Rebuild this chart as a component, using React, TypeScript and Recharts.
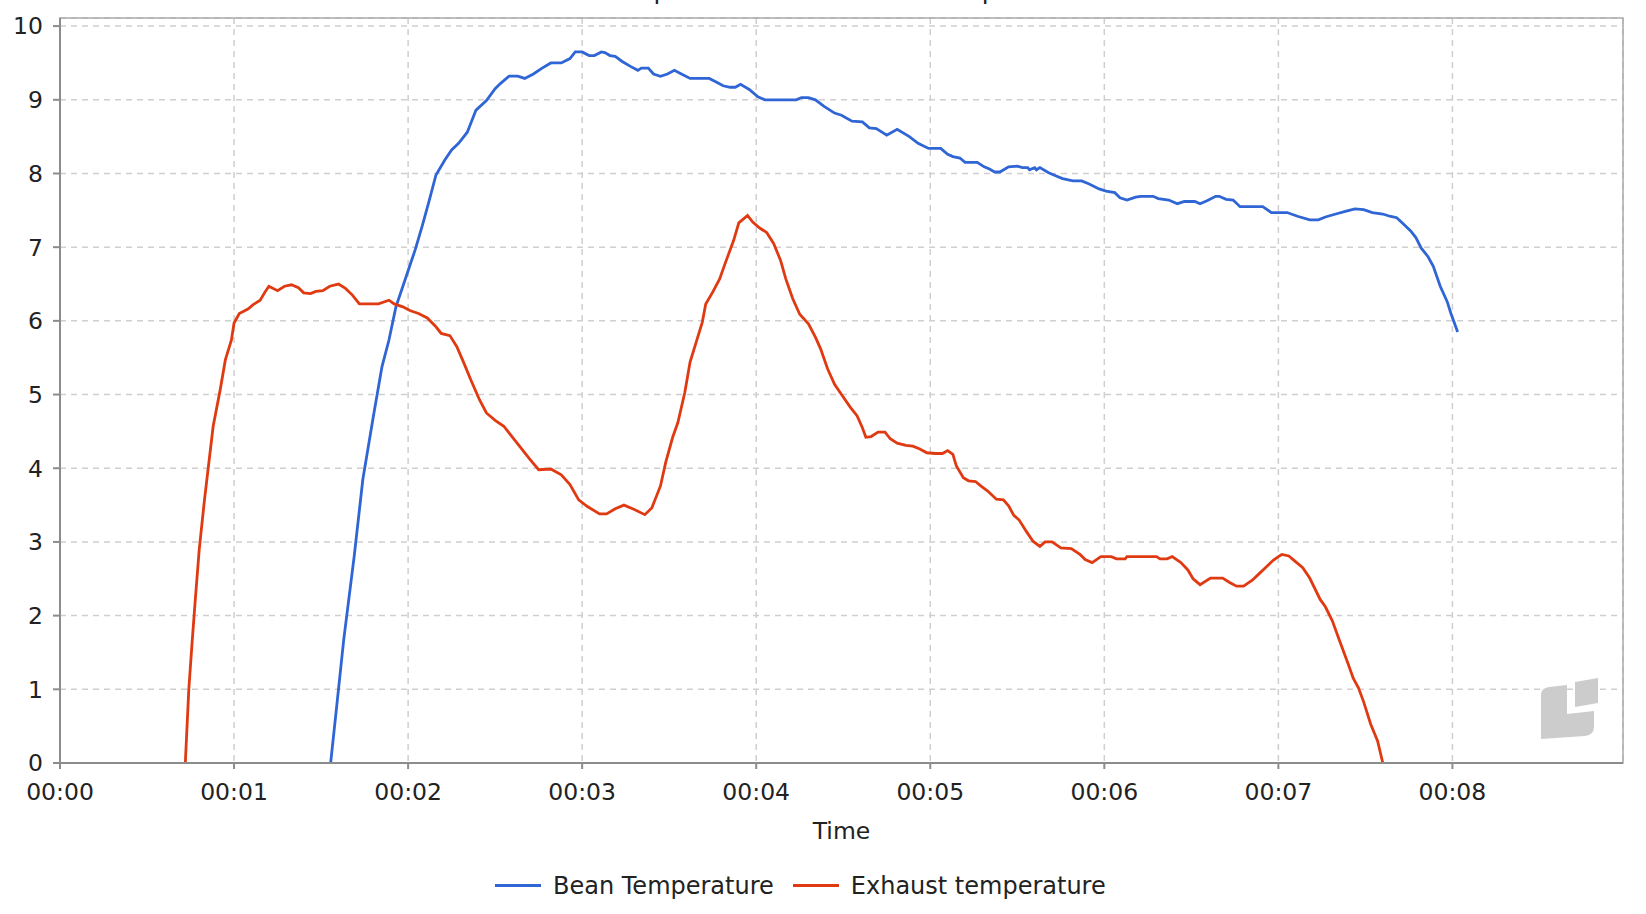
import {
  CartesianGrid,
  Customized,
  Legend,
  Line,
  LineChart,
  ReferenceArea,
  XAxis,
  YAxis,
} from 'recharts'

// time in minutes, temperature in chart units
const beanTime = [
  1.555, 1.6, 1.63, 1.69, 1.74, 1.8, 1.85, 1.89, 1.93, 1.97, 2.04, 2.08, 2.12, 2.16, 2.21, 2.25,
  2.29, 2.34, 2.39, 2.45, 2.5, 2.53, 2.58, 2.63, 2.67, 2.72, 2.77, 2.82, 2.88, 2.93, 2.96, 3.0,
  3.04, 3.07, 3.11, 3.13, 3.16, 3.19, 3.23, 3.28, 3.32, 3.34, 3.38, 3.41, 3.45, 3.49, 3.53, 3.57,
  3.62, 3.73, 3.77, 3.81, 3.85, 3.88, 3.91, 3.96, 4.01, 4.05, 4.23, 4.26, 4.3, 4.34, 4.39, 4.45,
  4.49, 4.55, 4.61, 4.65, 4.69, 4.75, 4.81, 4.88, 4.93, 4.99, 5.06, 5.1, 5.13, 5.17, 5.2, 5.27,
  5.31, 5.34, 5.37, 5.4, 5.45, 5.5, 5.53, 5.56, 5.57, 5.6, 5.61, 5.63, 5.68, 5.72, 5.76, 5.82,
  5.87, 5.91, 5.97, 6.01, 6.06, 6.09, 6.13, 6.18, 6.21, 6.28, 6.31, 6.37, 6.42, 6.46, 6.52, 6.55,
  6.59, 6.64, 6.66, 6.7, 6.74, 6.78, 6.91, 6.96, 7.05, 7.11, 7.18, 7.23, 7.27, 7.33, 7.39, 7.44,
  7.49, 7.54, 7.6, 7.64, 7.68, 7.72, 7.76, 7.79, 7.82, 7.86, 7.89, 7.93, 7.97, 7.99, 8.03,
]
const beanTemp = [
  0, 1, 1.67, 2.8, 3.85, 4.7, 5.38, 5.74, 6.19, 6.47, 6.96, 7.28, 7.62, 7.98, 8.18, 8.32,
  8.41, 8.56, 8.86, 8.99, 9.15, 9.22, 9.32, 9.32, 9.29, 9.35, 9.43, 9.5, 9.5, 9.56, 9.65, 9.65,
  9.6, 9.6, 9.65, 9.64, 9.6, 9.59, 9.52, 9.45, 9.4, 9.43, 9.43, 9.35, 9.32, 9.35, 9.4, 9.35,
  9.29, 9.29, 9.24, 9.19, 9.17, 9.17, 9.21, 9.14, 9.04, 9.0, 9.0, 9.03, 9.03, 9.0, 8.91, 8.82,
  8.79, 8.71, 8.7, 8.62, 8.61, 8.52, 8.6, 8.5, 8.41, 8.34, 8.34, 8.26, 8.23, 8.21, 8.15, 8.15,
  8.09, 8.06, 8.02, 8.02, 8.09, 8.1, 8.08, 8.08, 8.05, 8.08, 8.05, 8.08, 8.01, 7.97, 7.93, 7.9,
  7.9, 7.86, 7.79, 7.76, 7.74, 7.67, 7.64, 7.68, 7.69, 7.69, 7.66, 7.64, 7.59, 7.62, 7.62, 7.59,
  7.63, 7.69, 7.69, 7.65, 7.64, 7.55, 7.55, 7.47, 7.47, 7.42, 7.37, 7.37, 7.41, 7.45, 7.49, 7.52,
  7.51, 7.47, 7.45, 7.42, 7.4, 7.31, 7.22, 7.13, 6.99, 6.87, 6.74, 6.47, 6.26, 6.11, 5.85,
]

const exhaustTime = [
  0.72, 0.74, 0.76, 0.78, 0.8, 0.83, 0.88, 0.92, 0.95, 0.985, 1.0, 1.03, 1.08, 1.11, 1.15, 1.18,
  1.2, 1.25, 1.29, 1.33, 1.37, 1.4, 1.44, 1.47, 1.51, 1.55, 1.6, 1.64, 1.68, 1.72, 1.78, 1.83,
  1.89, 1.92, 1.97, 2.01, 2.06, 2.11, 2.16, 2.19, 2.24, 2.28, 2.32, 2.36, 2.41, 2.45, 2.5, 2.55,
  2.59, 2.64, 2.7, 2.75, 2.82, 2.88, 2.93, 2.98, 3.03, 3.1, 3.14, 3.19, 3.24, 3.3, 3.36, 3.4,
  3.45, 3.48, 3.52, 3.55, 3.59, 3.62, 3.66, 3.69, 3.71, 3.75, 3.79, 3.82, 3.87, 3.9, 3.95, 3.98,
  4.02, 4.06, 4.1, 4.14, 4.17, 4.21, 4.25, 4.3, 4.34, 4.37, 4.41, 4.45, 4.49, 4.54, 4.58, 4.61,
  4.63, 4.66, 4.7, 4.74, 4.77, 4.81, 4.86, 4.9, 4.94, 4.98, 5.03, 5.07, 5.1, 5.13, 5.15, 5.19,
  5.22, 5.26, 5.29, 5.33, 5.38, 5.42, 5.45, 5.48, 5.51, 5.55, 5.59, 5.63, 5.66, 5.7, 5.75, 5.81,
  5.86, 5.89, 5.93, 5.98, 6.04, 6.07, 6.12, 6.13, 6.3, 6.32, 6.36, 6.39, 6.44, 6.48, 6.51, 6.55,
  6.61, 6.68, 6.72, 6.76, 6.8, 6.85, 6.89, 6.93, 6.97, 7.0, 7.02, 7.06, 7.09, 7.14, 7.18, 7.24,
  7.27, 7.31, 7.35, 7.4, 7.43, 7.46, 7.49, 7.53, 7.57, 7.6,
]
const exhaustTemp = [
  0, 1, 1.67, 2.3, 2.9, 3.57, 4.57, 5.06, 5.47, 5.74, 5.97, 6.1, 6.16, 6.22, 6.28, 6.4,
  6.47, 6.41, 6.47, 6.49, 6.45, 6.38, 6.37, 6.4, 6.41, 6.47, 6.5, 6.44, 6.35, 6.23, 6.23, 6.23,
  6.28, 6.23, 6.19, 6.14, 6.1, 6.04, 5.92, 5.83, 5.8, 5.65, 5.43, 5.2, 4.93, 4.75, 4.65, 4.57,
  4.45, 4.3, 4.12, 3.98, 3.99, 3.91, 3.78, 3.57, 3.48, 3.38, 3.38, 3.45, 3.5, 3.44, 3.37, 3.46,
  3.76, 4.08, 4.42, 4.62, 5.03, 5.44, 5.75, 5.98, 6.23, 6.39, 6.57, 6.77, 7.09, 7.33, 7.43, 7.34,
  7.26, 7.2, 7.05, 6.82, 6.57, 6.3, 6.09, 5.96, 5.78, 5.62, 5.35, 5.14, 5.0, 4.83, 4.71, 4.55,
  4.42, 4.43, 4.49, 4.49, 4.4, 4.34, 4.31, 4.3, 4.26, 4.21, 4.2, 4.2, 4.24, 4.19, 4.03, 3.87,
  3.83, 3.82, 3.76, 3.69, 3.58, 3.57, 3.49, 3.36, 3.3, 3.15, 3.01, 2.94, 3.0, 3.0, 2.92, 2.91,
  2.83, 2.76, 2.72, 2.8, 2.8, 2.77, 2.77, 2.8, 2.8, 2.77, 2.77, 2.8, 2.72, 2.62, 2.5, 2.42,
  2.51, 2.51, 2.45, 2.4, 2.4, 2.48, 2.57, 2.66, 2.75, 2.8, 2.83, 2.81, 2.75, 2.65, 2.51, 2.22,
  2.12, 1.93, 1.67, 1.35, 1.15, 1.02, 0.83, 0.53, 0.3, 0,
]

const xTicks = [0, 1, 2, 3, 4, 5, 6, 7, 8]
const yTicks = [0, 1, 2, 3, 4, 5, 6, 7, 8, 9, 10]
const xMax = 8.98
const yMax = 10.11

const beanData = beanTime.map((t, i) => ({ t, v: beanTemp[i] }))
const exhaustData = exhaustTime.map((t, i) => ({ t, v: exhaustTemp[i] }))

const font = '"DejaVu Sans", Verdana, sans-serif'
const textColor = '#222'
const tick = { fill: textColor, fontSize: 23.5, fontFamily: font }
const axisLine = { stroke: '#8c8c8c', strokeWidth: 2 }

const fmtTime = (t: number) => `00:${String(t).padStart(2, '0')}`

function LegendContent({ payload }: any) {
  return (
    <div style={{ height: 60, paddingLeft: 495, paddingTop: 25, boxSizing: 'border-box', display: 'flex', alignItems: 'center', fontFamily: font, fontSize: 24, color: textColor }}>
      {(payload ?? []).map((p: any) => (
        <span key={p.value} style={{ display: 'flex', alignItems: 'center', marginRight: 19 }}>
          <span style={{ display: 'inline-block', width: 46, height: 3, background: p.color, marginRight: 12 }} />
          {p.value}
        </span>
      ))}
    </div>
  )
}

// title sits above the page edge, only its descenders show; faint logo bottom right
function Decor() {
  return (
    <g>
      <text x={531} y={-1.5} fontFamily={font} fontSize={25} fill={textColor}>
        Bean Temperature and Exhaust temperature
      </text>
      <g fill="#cccccc">
        <path d="M1549,687 L1567,685 L1567,714 L1594,711 L1594,727 Q1594,735 1585,736 L1541,739 L1541,695 Q1541,688 1549,687 Z" />
        <path d="M1575,682 L1598,678 L1598,703 L1575,707 Z" />
      </g>
    </g>
  )
}

export default function App() {
  return (
    <div style={{ position: 'absolute', left: 0, top: 0, width: 1646, height: 914, background: '#fff' }}>
      <LineChart width={1646} height={914} margin={{ top: 18, right: 23, bottom: 11, left: 0 }}>
        <CartesianGrid stroke="#cfcfcf" strokeWidth={1.5} strokeDasharray="6 5" />
        <ReferenceArea x1={0} x2={xMax} y1={0} y2={yMax} fill="none" stroke="#ababab" strokeWidth={1.5} ifOverflow="visible" />
        <XAxis
          type="number"
          dataKey="t"
          domain={[0, xMax]}
          ticks={xTicks}
          allowDataOverflow
          tickFormatter={fmtTime}
          tick={tick}
          axisLine={axisLine}
          tickLine={axisLine}
          tickSize={6}
          tickMargin={14}
          height={80}
          label={{ value: 'Time', position: 'insideBottom', offset: 4, fill: textColor, fontSize: 23.5, fontFamily: font }}
        />
        <YAxis
          type="number"
          dataKey="v"
          domain={[0, yMax]}
          ticks={yTicks}
          allowDataOverflow
          tick={tick}
          axisLine={axisLine}
          tickLine={axisLine}
          tickSize={7}
          tickMargin={10}
          width={60}
        />
        <Legend verticalAlign="bottom" content={<LegendContent />} />
        <Line
          data={beanData}
          dataKey="v"
          name="Bean Temperature"
          type="linear"
          stroke="#2f65d4"
          strokeWidth={2.8}
          dot={false}
          activeDot={false}
          isAnimationActive={false}
        />
        <Line
          data={exhaustData}
          dataKey="v"
          name="Exhaust temperature"
          type="linear"
          stroke="#e03a12"
          strokeWidth={2.8}
          dot={false}
          activeDot={false}
          isAnimationActive={false}
        />
        <Customized component={Decor} />
      </LineChart>
    </div>
  )
}
